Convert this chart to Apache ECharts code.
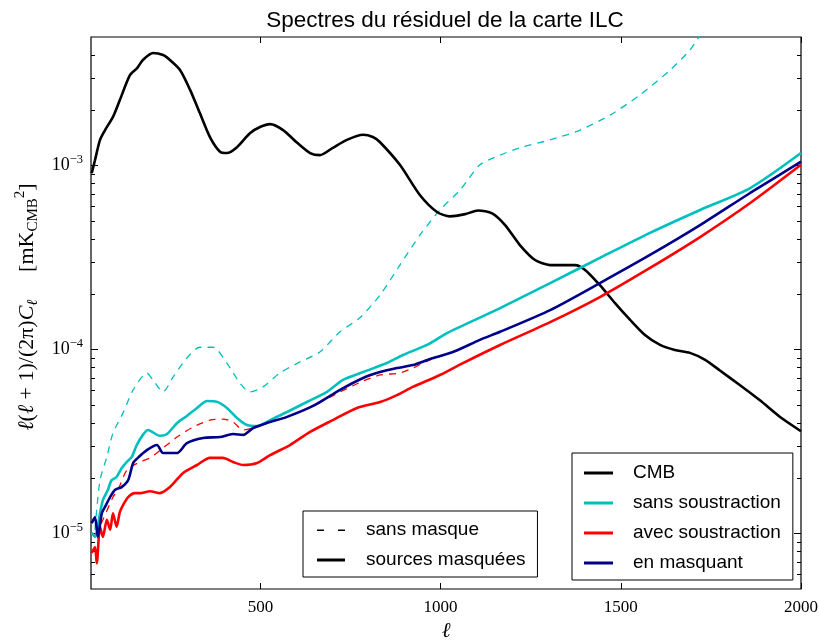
<!DOCTYPE html>
<html><head><meta charset="utf-8">
<script src="https://cdn.jsdelivr.net/npm/echarts@6/dist/echarts.min.js"></script>
<style>html,body{margin:0;padding:0;background:#fff}#c{width:819px;height:642px}</style>
</head><body><div id="c"></div>
<script>
// ---------- data ----------
const xTicks = [500, 1000, 1500, 2000];
const yMajor = [1e-5, 1e-4, 1e-3];
const yMinor = [6e-6, 7e-6, 8e-6, 9e-6, 2e-5, 3e-5, 4e-5, 5e-5, 6e-5, 7e-5, 8e-5, 9e-5,
                2e-4, 3e-4, 4e-4, 5e-4, 6e-4, 7e-4, 8e-4, 9e-4, 2e-3, 3e-3, 4e-3];

const cmbEll = [32,41,55,69,91,110,138,158,174,202,230,249,277,305,332,360,388,407,435,471,499,527,563,602,638,665,701,740,785,812,832,887,943,990,1026,1068,1104,1143,1179,1220,1262,1304,1345,1373,1401,1442,1484,1526,1567,1609,1650,1692,1734,1775,1831,1886,1942,2000];
const cmbVal = [9.1e-4,1.07e-3,1.38e-3,1.56e-3,1.84e-3,2.27e-3,3.10e-3,3.39e-3,3.75e-3,4.09e-3,3.99e-3,3.75e-3,3.31e-3,2.58e-3,1.93e-3,1.43e-3,1.19e-3,1.17e-3,1.26e-3,1.50e-3,1.62e-3,1.68e-3,1.56e-3,1.33e-3,1.17e-3,1.14e-3,1.25e-3,1.38e-3,1.47e-3,1.43e-3,1.34e-3,1.01e-3,6.9e-4,5.6e-4,5.3e-4,5.45e-4,5.7e-4,5.5e-4,4.75e-4,3.7e-4,3.07e-4,2.88e-4,2.88e-4,2.88e-4,2.71e-4,2.24e-4,1.79e-4,1.45e-4,1.20e-4,1.06e-4,9.95e-5,9.6e-5,8.8e-5,7.7e-5,6.4e-5,5.3e-5,4.3e-5,3.6e-5];

const cyanEll = [32,41,55,63,77,87,101,115,129,143,157,174,188,221,241,269,296,324,352,380,407,435,463,491,527,574,629,685,729,785,851,896,962,1018,1082,1165,1304,1442,1581,1720,1859,2000];
const cyanVal = [1.01e-5,9.6e-6,1.29e-5,1.52e-5,1.73e-5,1.95e-5,2.03e-5,2.27e-5,2.45e-5,2.61e-5,3.03e-5,3.44e-5,3.66e-5,3.40e-5,3.48e-5,3.99e-5,4.36e-5,4.82e-5,5.26e-5,5.2e-5,4.82e-5,4.25e-5,3.89e-5,3.84e-5,4.14e-5,4.58e-5,5.19e-5,5.89e-5,6.84e-5,7.55e-5,8.45e-5,9.35e-5,1.06e-4,1.23e-4,1.41e-4,1.68e-4,2.30e-4,3.15e-4,4.31e-4,5.74e-4,7.55e-4,1.17e-3];

const navyEll = [32,41,49,60,69,83,97,115,133,147,160,185,213,230,269,296,341,388,424,452,480,518,574,646,721,785,832,879,923,971,1034,1109,1165,1304,1442,1581,1720,1859,2000];
const navyVal = [1.14e-5,1.23e-5,9.6e-6,1.29e-5,1.40e-5,1.58e-5,1.73e-5,1.79e-5,1.95e-5,2.42e-5,2.58e-5,2.84e-5,3.03e-5,2.74e-5,2.74e-5,3.10e-5,3.31e-5,3.35e-5,3.48e-5,3.44e-5,3.75e-5,3.99e-5,4.31e-5,4.94e-5,6.04e-5,7.01e-5,7.55e-5,7.94e-5,8.24e-5,8.89e-5,9.7e-5,1.13e-4,1.25e-4,1.64e-4,2.30e-4,3.27e-4,4.75e-4,7.1e-4,1.05e-3];

const redEll = [32,41,46,55,63,74,83,91,101,110,119,133,152,166,194,221,249,285,324,360,396,424,452,491,527,582,638,701,768,832,879,923,998,1062,1165,1304,1442,1581,1720,1859,2000];
const redVal = [7.85e-6,8.45e-6,6.9e-6,1.09e-5,9.6e-6,1.19e-5,1.05e-5,1.29e-5,1.09e-5,1.31e-5,1.43e-5,1.58e-5,1.66e-5,1.66e-5,1.70e-5,1.66e-5,1.79e-5,2.13e-5,2.36e-5,2.58e-5,2.58e-5,2.45e-5,2.36e-5,2.42e-5,2.67e-5,3.03e-5,3.57e-5,4.14e-5,4.82e-5,5.19e-5,5.66e-5,6.27e-5,7.28e-5,8.45e-5,1.06e-4,1.41e-4,1.93e-4,2.78e-4,4.09e-4,6.26e-4,1.01e-3];

const redDashEll = [41,63,91,105,130,166,194,230,269,313,360,396,424,452,480,518,574,646,721,785,832,887,923,971,1034,1060];
const redDashVal = [9.8e-6,1.19e-5,1.58e-5,1.73e-5,2.22e-5,2.45e-5,2.58e-5,2.92e-5,3.35e-5,3.79e-5,4.14e-5,4.19e-5,4.04e-5,3.66e-5,3.75e-5,3.99e-5,4.31e-5,4.94e-5,5.89e-5,6.75e-5,7.28e-5,7.46e-5,7.94e-5,8.8e-5,9.7e-5,1.0e-4];

const cyanDashEll = [41,55,74,91,119,147,185,202,230,258,296,332,369,407,443,471,507,554,610,665,721,776,832,887,943,998,1054,1109,1165,1220,1304,1387,1470,1553,1637,1692,1734,1831];
const cyanDashVal = [1.05e-5,1.95e-5,2.61e-5,3.52e-5,4.53e-5,6.04e-5,7.46e-5,6.84e-5,5.89e-5,7.1e-5,9.0e-5,1.03e-4,1.03e-4,8.45e-5,6.59e-5,5.89e-5,6.27e-5,7.46e-5,8.57e-5,9.7e-5,1.25e-4,1.49e-4,1.98e-4,2.88e-4,4.2e-4,5.74e-4,7.36e-4,1.01e-3,1.14e-3,1.25e-3,1.38e-3,1.56e-3,1.88e-3,2.42e-3,3.31e-3,4.25e-3,5.5e-3,7e-3];

const legendMain = ['CMB', 'sans soustraction', 'avec soustraction', 'en masquant'];
const legendStyle = ['sans masque', 'sources masquées'];

// ---------- chart ----------
const serif = "'Liberation Serif','DejaVu Serif',serif";
const sans = "'Liberation Sans',Arial,sans-serif";
const zip = (a, b) => a.map((x, i) => [x, b[i]]);
const C_CYAN = '#00BFBF', C_RED = '#FF0000', C_NAVY = '#00008B', C_BLACK = '#000000';

const chart = echarts.init(document.getElementById('c'), null, {renderer: 'canvas'});

const yLabelFmt = v => {
  const e = Math.round(Math.log10(v));
  return '{m|10}{e|\u2212' + (-e) + '}';
};
const yLabelRich = {
  m: {fontFamily: serif, fontSize: 18, color: '#000', lineHeight: 24},
  e: {fontFamily: serif, fontSize: 12.5, color: '#000', lineHeight: 12, verticalAlign: 'top'}
};
const logBase = {type: 'log', logBase: 10, min: 5e-6, max: 5e-3, splitLine: {show: false}, axisLine: {show: false}};
const tickStyle = {color: '#000', width: 1};

const lineSeries = (name, ell, val, color, width, dashed, z) => ({
  name, type: 'line', data: zip(ell, val), xAxisIndex: 0, yAxisIndex: 0,
  symbol: 'none', showSymbol: false, smooth: 0.25, z, color,
  lineStyle: {color, width, type: dashed ? [7, 6] : 'solid'},
  emphasis: {disabled: true}, silent: true
});

const dashIcon = 'path://M0,0L0.05,0L0.05,0.05Z M0,1L7,1L7,2.4L0,2.4Z M21,1L28,1L28,2.4L21,2.4Z M0,3L0.05,3L0.05,2.95Z';
const solidIcon = 'path://M0,0L28,0L28,3L0,3Z';

chart.setOption({
  animation: false,
  backgroundColor: '#fff',
  title: {
    text: 'Spectres du résiduel de la carte ILC',
    left: 440, top: 4, textAlign: 'center',
    textStyle: {fontFamily: sans, fontSize: 22.5, fontWeight: 'normal', color: '#000'}
  },
  grid: {left: 91, right: 18, top: 37, bottom: 53, show: true, borderColor: '#000', borderWidth: 1.2,
         containLabel: false, outerBoundsMode: 'none'},
  xAxis: [
    {type: 'value', min: 30, max: 2000, position: 'bottom', splitLine: {show: false}, axisLine: {show: false},
     axisTick: {inside: true, length: 6, customValues: xTicks, lineStyle: tickStyle},
     axisLabel: {customValues: xTicks, formatter: v => String(v), fontFamily: serif, fontSize: 17, color: '#000', margin: 10},
     name: 'ℓ', nameLocation: 'middle', nameGap: 32,
     nameTextStyle: {fontFamily: serif, fontStyle: 'italic', fontSize: 21, color: '#000'}},
    {type: 'value', min: 30, max: 2000, position: 'top', splitLine: {show: false}, axisLine: {show: false},
     axisTick: {inside: true, length: 6, customValues: xTicks, lineStyle: tickStyle},
     axisLabel: {show: false}}
  ],
  yAxis: [
    Object.assign({}, logBase, {position: 'left',
      axisTick: {inside: true, length: 7, customValues: yMajor, lineStyle: tickStyle},
      axisLabel: {customValues: yMajor, formatter: yLabelFmt, rich: yLabelRich, margin: 8},
      name: '{i|ℓ}{r|(}{i|ℓ}{r| + 1)/(2π)}{i|C}{sb|ℓ}{r|     [mK}{sc|CMB}{sp|2}{r|]}',
      nameLocation: 'middle', nameGap: 46, nameRotate: 90,
      nameTextStyle: {fontFamily: serif, fontSize: 22, color: '#000', padding: [0, 0, 0, 12], rich: {
        i: {fontFamily: serif, fontStyle: 'italic', fontSize: 22, lineHeight: 28, color: '#000'},
        r: {fontFamily: serif, fontSize: 22, lineHeight: 28, color: '#000'},
        sb: {fontFamily: serif, fontStyle: 'italic', fontSize: 15, lineHeight: 18, verticalAlign: 'bottom', color: '#000'},
        sc: {fontFamily: serif, fontSize: 15, lineHeight: 18, verticalAlign: 'bottom', color: '#000'},
        sp: {fontFamily: serif, fontSize: 15, lineHeight: 15, verticalAlign: 'top', color: '#000'}
      }}}),
    Object.assign({}, logBase, {position: 'left',
      axisTick: {inside: true, length: 4, customValues: yMinor, lineStyle: tickStyle},
      axisLabel: {show: false}}),
    Object.assign({}, logBase, {position: 'right',
      axisTick: {inside: true, length: 7, customValues: yMajor, lineStyle: tickStyle},
      axisLabel: {show: false}}),
    Object.assign({}, logBase, {position: 'right',
      axisTick: {inside: true, length: 4, customValues: yMinor, lineStyle: tickStyle},
      axisLabel: {show: false}})
  ],
  legend: [
    {data: legendMain, orient: 'vertical', left: 572, top: 453, padding: [10, 12, 7, 12],
     itemGap: 10, itemWidth: 29, itemHeight: 3, icon: 'rect', selectedMode: false,
     backgroundColor: '#fff', borderColor: '#000', borderWidth: 1, borderRadius: 0,
     textStyle: {fontFamily: sans, fontSize: 19, color: '#000', lineHeight: 20, padding: [0, 0, 0, 15]}},
    {data: [{name: legendStyle[0], icon: dashIcon}, {name: legendStyle[1], icon: solidIcon}],
     orient: 'vertical', left: 303, top: 511, padding: [9, 12, 7, 14],
     itemGap: 10, itemWidth: 28, itemHeight: 3, selectedMode: false,
     backgroundColor: '#fff', borderColor: '#000', borderWidth: 1, borderRadius: 0,
     textStyle: {fontFamily: sans, fontSize: 19, color: '#000', lineHeight: 20, padding: [0, 0, 0, 16]}}
  ],
  series: [
    lineSeries('CMB', cmbEll, cmbVal, C_BLACK, 2.6, false, 3),
    lineSeries('sans soustraction (sans masque)', cyanDashEll, cyanDashVal, C_CYAN, 1.3, true, 2),
    lineSeries('avec soustraction (sans masque)', redDashEll, redDashVal, C_RED, 1.3, true, 2),
    lineSeries('sans soustraction', cyanEll, cyanVal, C_CYAN, 2.6, false, 3),
    lineSeries('avec soustraction', redEll, redVal, C_RED, 2.6, false, 3),
    lineSeries('en masquant', navyEll, navyVal, C_NAVY, 2.6, false, 3),
    {name: legendStyle[0], type: 'line', data: [], color: C_BLACK},
    {name: legendStyle[1], type: 'line', data: [], color: C_BLACK}
  ]
});
</script>
</body></html>
